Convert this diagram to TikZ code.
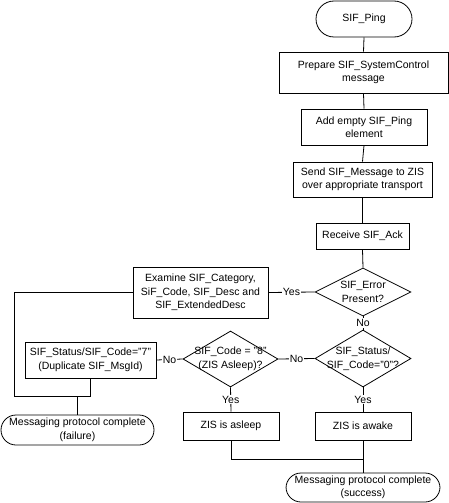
\documentclass[tikz,border=0pt]{standalone}
\usepackage{fontspec}
\setmainfont{Liberation Sans}
\usetikzlibrary{shapes.geometric}

\begin{document}
\begin{tikzpicture}[x=1pt, y=-1pt, line width=0.8pt,
  every node/.style={font=\fontsize{10.5}{13.5}\selectfont, align=center, inner sep=0pt},
  wh/.style 2 args={minimum width=#1pt, minimum height=#2pt},
  box/.style={draw, rectangle},
  term/.style={draw, rectangle, rounded corners=#1pt},
  decide/.style={draw, diamond, inner sep=-10pt},
  lbl/.style={fill=white, inner sep=1pt}]
  % Frame
  \useasboundingbox (0,0) rectangle (449,503);

  % Main column
  \node[term=18, wh={96}{36}] (ping) at (364,19) {SIF\_Ping};
  \node[box, wh={169}{41}] (prep) at (363.5,72.5) {Prepare SIF\_SystemControl\\message};
  \node[box, wh={126}{36}] (add) at (364,127) {Add empty SIF\_Ping\\element};
  \node[box, wh={139}{35}] (send) at (362.5,179.5) {Send SIF\_Message to ZIS\\over appropriate transport};
  \node[box, wh={93}{26}] (recv) at (362.5,236) {Receive SIF\_Ack};
  \node[decide, wh={96}{48}] (err) at (363,292) {SIF\_Error\\Present?};

  % Error branch
  \node[box, wh={135}{51}] (exam) at (200.5,292.5) {Examine SIF\_Category,\\SiF\_Code, SIF\_Desc and\\SIF\_ExtendedDesc};

  % Status checks
  \node[decide, wh={96}{57}] (stat) at (363,358.5) {SIF\_Status/\\SIF\_Code="0"?};
  \node[decide, wh={95}{56}] (asleepq) at (230.5,359) {SIF\_Code = "8"\\(ZIS Asleep)?};
  \node[box, wh={131}{36}] (dup) at (90.5,360) {SIF\_Status/SIF\_Code="7"\\(Duplicate SIF\_MsgId)};

  % End states
  \node[box, wh={96}{28}] (asleep) at (231,426) {ZIS is asleep};
  \node[box, wh={96}{28}] (awake) at (363,426) {ZIS is awake};
  \node[term=15, wh={153}{30}] (fail) at (77.5,430) {Messaging protocol complete\\(failure)};
  \node[term=15, wh={154}{29}] (succ) at (363,487.5) {Messaging protocol complete\\(success)};

  % Junction points
  \coordinate (loopL) at (14,396);
  \coordinate (joinS) at (363,459);

  % Connectors
  \foreach \a/\b in {ping/prep, prep/add, add/send, send/recv, recv/err, awake/succ}
      \draw (\a.south) -- (\b.north);
  \draw (err.west) -- node[lbl] {Yes} (exam.east);
  \draw (err.south) -- node[lbl] {No} (stat.north);
  \draw (stat.west) -- node[lbl] {No} (asleepq.east);
  \draw (asleepq.west) -- node[lbl] {No} (dup.east);
  \draw (asleepq.south) -- node[lbl] {Yes} (asleep.north);
  \draw (stat.south) -- node[lbl] {Yes} (awake.north);
  \draw (asleep.south) |- (joinS);
  \draw (exam.west) -| (loopL) -- (dup.south |- loopL) -- (dup.south);
  \draw (fail.north) -- (fail.north |- loopL);
\end{tikzpicture}
\end{document}
